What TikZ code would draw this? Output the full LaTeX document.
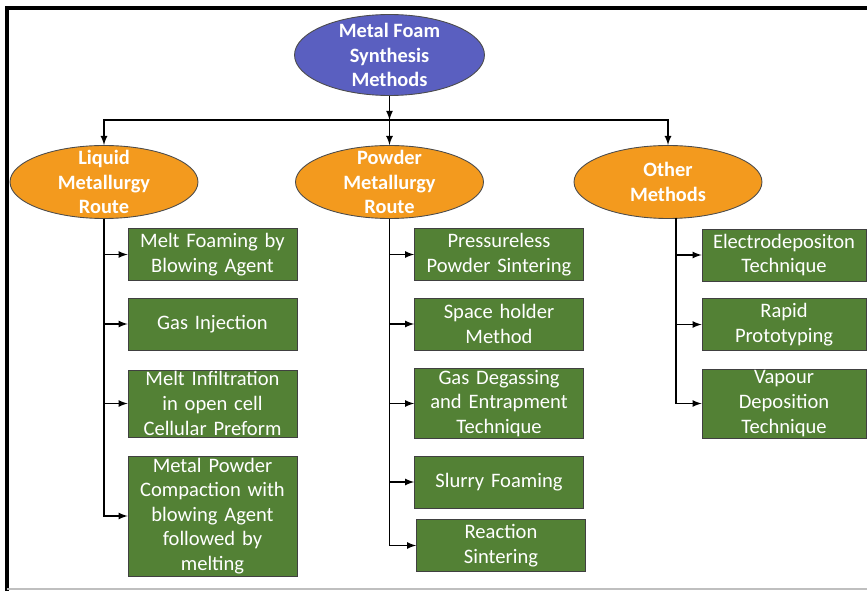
\documentclass[tikz,border=0pt]{standalone}
\usepackage{fontspec}
\setmainfont{Carlito}
\usepackage{tikz}
\usepackage{xcolor}
\usetikzlibrary{shapes.geometric}
\definecolor{rootblue}{RGB}{90,95,192}
\definecolor{routeorange}{RGB}{243,154,30}
\definecolor{techgreen}{RGB}{83,129,53}
\tikzset{
	ellnode/.style   = {shape=ellipse, draw=black!70, line width=0.5pt},
	root/.style      = {ellnode, fill=rootblue, minimum width=3.8cm, minimum height=1.62cm},
	route/.style     = {ellnode, fill=routeorange, minimum width=3.76cm, minimum height=1.46cm},
	elltext/.style   = {font=\bfseries\fontsize{11.6}{14}\selectfont, text=white, align=center},
	technique/.style = {shape=rectangle, draw=black!75, fill=techgreen, text=white,
		align=center, text width=3.2cm, minimum width=3.38cm, minimum height=1.04cm,
		inner xsep=0.09cm, inner ysep=1pt, font=\fontsize{11.7}{14}\selectfont},
	othertech/.style = {technique, text width=3.1cm, minimum width=3.28cm}
}

\begin{document}
\begin{tikzpicture}
[
x         = 0.02cm,
y         = -0.02cm,
link/.style = {draw, line width=0.8pt, -latex}
]
\useasboundingbox (0,0) rectangle (867,591);
\draw [line width=0.08cm] (7,591) -- (7,8) -- (867,8);
\draw [black!25, line width=0.6pt] (7,589) -- (867,589);

\node [root, label={[elltext]center:Metal Foam\\Synthesis\\Methods}] (fm) at (389.5,55) {};
\node [route, label={[elltext]center:Liquid\\Metallurgy\\Route}] (lmr) at (104,182) {};
\node [route, label={[elltext]center:Powder\\Metallurgy\\Route}] (pmr) at (389.5,182) {};
\node [route, label={[elltext]center:Other\\Methods}] (oth) at (668,182) {};

\node [technique] (lm1) at (212.5,254.5) {Melt Foaming by\\Blowing Agent};
\node [technique] (lm2) at (212.5,324) {Gas Injection};
\node [technique] (lm3) at (212.5,403.5) {Melt Infiltration\\in open cell\\Cellular Preform};
\node [technique] (lm4) at (212.5,516) {Metal Powder\\Compaction with\\blowing Agent\\followed by\\melting};

\node [technique] (pm1) at (499,254.5) {Pressureless\\Powder Sintering};
\node [technique] (pm2) at (499,324) {Space holder\\Method};
\node [technique] (pm3) at (499,403.5) {Gas Degassing\\and Entrapment\\Technique};
\node [technique] (pm4) at (499,482) {Slurry Foaming};
\node [technique] (pm5) at (501,545.5) {Reaction\\Sintering};

\node [othertech] (ot1) at (784,255) {Electrodepositon\\Technique};
\node [othertech] (ot2) at (784,324.5) {Rapid\\Prototyping};
\node [othertech] (ot3) at (784,403.5) {Vapour\\Deposition\\Technique};

\coordinate (bar) at (389.5,120);
\coordinate (otr) at (676,218);
\draw [link] (fm) -- (bar);
\draw [link] (bar) -| (lmr);
\draw [link] (bar) -- (pmr);
\draw [link] (bar) -| (oth);

\foreach \b in {lm1,lm2,lm3,lm4}
	\draw [link] (lmr.south) |- (\b.west);
\foreach \b in {pm1,pm2,pm3,pm4,pm5}
	\draw [link] (pmr.south) |- (\b.west);
\foreach \b in {ot1,ot2,ot3}
	\draw [link] (otr) |- (\b.west);
\end{tikzpicture}
\end{document}
